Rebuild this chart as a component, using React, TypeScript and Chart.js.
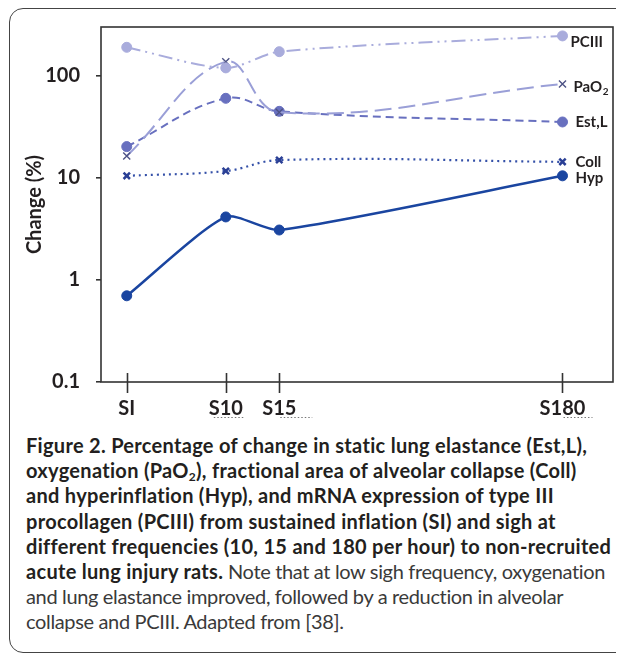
import React, { useEffect, useRef } from "react";
import { Chart, registerables } from "chart.js";

Chart.register(...registerables);

// ---- data ----
const categories = ["SI", "S10", "S15", "S180"];
const xPositions = [0, 10, 15.4, 44];
const seriesNames = ["PCIII", "PaO2", "Est,L", "Coll", "Hyp"];
const pciii = [191, 120, 173, 247];
const pao2 = [16.4, 138, 44, 83.5];
const estL = [20.3, 60.4, 45, 35.4];
const coll = [10.5, 11.7, 15, 14.4];
const hyp = [0.7, 4.15, 3.09, 10.5];
const yTicks = [0.1, 1, 10, 100];

const FONT = "Lato";
const INK = "#231f20";

const styles = [
  { color: "#a9acdc", dash: [14, 5, 2, 5, 2, 5], width: 2, point: "circle", r: 5, pb: "#a9acdc", pw: 1, t: 0.3 },
  { color: "#9a9fd7", dash: [17, 7], width: 2, point: "crossRot", r: 5, pb: "#4d5285", pw: 1.4, t: 0.4 },
  { color: "#6870bf", dash: [8, 5], width: 2, point: "circle", r: 5, pb: "#6870bf", pw: 1, t: 0.4 },
  { color: "#3450a8", dash: [2, 4], width: 2.2, point: "crossRot", r: 4.5, pb: "#2a3f95", pw: 2.5, t: 0.4 },
  { color: "#1a45a0", dash: [], width: 2.5, point: "circle", r: 5, pb: "#1a45a0", pw: 1, t: 0.22 },
];
const seriesValues = [pciii, pao2, estL, coll, hyp];
const labelDx = [8, 11, 13, 13, 13];
const labelDy = [6, 3, 0, 0, 2];
// little dotted marks under some x labels (start, end offsets from tick)
const underDots: Array<[number, number] | null> = [null, [-12, 18], [1, 33], [1, 30]];

const overlay = {
  id: "overlay",
  afterDraw(chart: any) {
    const { ctx, chartArea: a, scales } = chart;
    const xs = scales.x;
    ctx.save();
    ctx.strokeStyle = "#333";
    ctx.lineWidth = 1.6;
    ctx.strokeRect(a.left, a.top, a.right - a.left, a.bottom - a.top);
    xPositions.forEach((v) => {
      const px = Math.round(xs.getPixelForValue(v)) + 0.5;
      ctx.beginPath();
      ctx.moveTo(px, a.bottom - 9);
      ctx.lineTo(px, a.bottom + 11);
      ctx.stroke();
    });
    // dotted underline artifacts
    ctx.save();
    ctx.strokeStyle = "#777";
    ctx.lineWidth = 1;
    ctx.setLineDash([1.5, 2]);
    underDots.forEach((d, i) => {
      if (!d) return;
      const px = xs.getPixelForValue(xPositions[i]);
      ctx.beginPath();
      ctx.moveTo(px + d[0], a.bottom + 35.5);
      ctx.lineTo(px + d[1], a.bottom + 35.5);
      ctx.stroke();
    });
    ctx.restore();
    // end labels
    ctx.fillStyle = INK;
    ctx.textBaseline = "middle";
    ctx.textAlign = "left";
    seriesNames.forEach((name, i) => {
      const meta = chart.getDatasetMeta(i);
      const el = meta.data[meta.data.length - 1];
      const lx = xs.getPixelForValue(xPositions[xPositions.length - 1]) + labelDx[i];
      const ly = el.y + labelDy[i];
      ctx.font = `bold 15px ${FONT}`;
      if (name === "PaO2") {
        ctx.fillText("PaO", lx, ly);
        const w = ctx.measureText("PaO").width;
        ctx.font = `bold 10px ${FONT}`;
        ctx.fillText("2", lx + w + 0.5, ly + 5);
      } else {
        ctx.fillText(name, lx, ly);
      }
    });
    // y title
    ctx.translate(25, (a.top + a.bottom) / 2);
    ctx.rotate(-Math.PI / 2);
    ctx.font = `bold 20px ${FONT}`;
    ctx.textAlign = "center";
    ctx.textBaseline = "middle";
    ctx.fillText("Change (%)", 0, 0);
    ctx.restore();
  },
};

function ChartCanvas() {
  const ref = useRef<HTMLCanvasElement | null>(null);
  useEffect(() => {
    if (!ref.current) return;
    const chart = new Chart(ref.current, {
      type: "line",
      data: {
        datasets: seriesNames.map((name, i) => ({
          label: name,
          data: seriesValues[i].map((v, j) => ({ x: xPositions[j], y: v })),
          borderColor: styles[i].color,
          backgroundColor: styles[i].pb,
          borderWidth: styles[i].width,
          borderDash: styles[i].dash,
          pointStyle: styles[i].point as any,
          pointRadius: styles[i].r,
          pointBorderColor: styles[i].pb,
          pointBackgroundColor: styles[i].pb,
          pointBorderWidth: styles[i].pw,
          tension: styles[i].t,
          fill: false,
        })),
      },
      options: {
        animation: false,
        responsive: false,
        maintainAspectRatio: false,
        devicePixelRatio: 1,
        layout: { padding: { left: 0, top: 17, right: 11, bottom: 0 } },
        plugins: { legend: { display: false }, tooltip: { enabled: false } },
        scales: {
          x: {
            type: "linear",
            min: -2.6,
            max: 49.1,
            grid: { display: false, drawTicks: false },
            border: { display: false },
            afterBuildTicks: (s: any) => {
              s.ticks = xPositions.map((v) => ({ value: v }));
            },
            afterFit: (s: any) => {
              s.height = 43;
              s.paddingLeft = 0;
              s.paddingRight = 0;
            },
            ticks: {
              autoSkip: false,
              maxRotation: 0,
              padding: 15,
              color: INK,
              font: { family: FONT, size: 20, weight: "bold" },
              callback: (_v: any, i: number) => categories[i],
            },
          },
          y: {
            type: "logarithmic",
            min: 0.1,
            max: 302,
            grid: { drawOnChartArea: false, drawTicks: true, tickLength: 5, color: "#333", lineWidth: 1.6 },
            border: { display: false },
            afterBuildTicks: (s: any) => {
              s.ticks = yTicks.map((v) => ({ value: v }));
            },
            afterFit: (s: any) => {
              s.width = 91;
              s.paddingTop = 0;
              s.paddingBottom = 0;
            },
            ticks: {
              autoSkip: false,
              padding: 16,
              color: INK,
              font: { family: FONT, size: 20, weight: "bold" },
              callback: (v: any) => String(v),
            },
          },
        },
      },
      plugins: [overlay],
    });
    return () => chart.destroy();
  }, []);
  return <canvas ref={ref} width={614} height={415} style={{ position: "absolute", left: 2, top: 2, width: 614, height: 415 }} />;
}

const boldLines = [
  "Figure 2. Percentage of change in static lung elastance (Est,L),",
  "oxygenation (PaO|2|), fractional area of alveolar collapse (Coll)",
  "and hyperinflation (Hyp), and mRNA expression of type III",
  "procollagen (PCIII) from sustained inflation (SI) and sigh at",
  "different frequencies (10, 15 and 180 per hour) to non-recruited",
];
const mixedBold = "acute lung injury rats.";
const mixedLight = " Note that at low sigh frequency, oxygenation";
const lightLines = [
  "and lung elastance improved, followed by a reduction in alveolar",
  "collapse and PCIII. Adapted from [38].",
];

function renderLine(s: string) {
  const parts = s.split("|");
  if (parts.length === 1) return s;
  return (
    <>
      {parts[0]}
      <sub style={{ fontSize: "0.6em", verticalAlign: "-0.25em", lineHeight: 0 }}>{parts[1]}</sub>
      {parts[2]}
    </>
  );
}

export default function App() {
  const lineStyle: React.CSSProperties = { whiteSpace: "nowrap", height: 25.2, lineHeight: "25.2px" };
  const light: React.CSSProperties = { fontWeight: 400, color: "#3a3a3a", letterSpacing: "-0.35px" };
  return (
    <div style={{ position: "relative", width: 616, height: 647, overflow: "hidden" }}>
      <div
        style={{
          position: "absolute",
          left: 1,
          top: 0,
          width: 650,
          height: 645,
          border: "1.5px solid #444",
          borderRadius: 14,
          boxSizing: "border-box",
        }}
      />
      <ChartCanvas />
      <div
        style={{
          position: "absolute",
          left: 18,
          top: 425,
          fontFamily: FONT,
          fontSize: 20,
          letterSpacing: "0.3px",
          color: INK,
        }}
      >
        {boldLines.map((l, i) => (
          <div key={i} style={{ ...lineStyle, fontWeight: 700 }}>
            {renderLine(l)}
          </div>
        ))}
        <div style={lineStyle}>
          <span style={{ fontWeight: 700 }}>{mixedBold}</span>
          <span style={light}>{mixedLight}</span>
        </div>
        {lightLines.map((l, i) => (
          <div key={i} style={{ ...lineStyle, ...light }}>
            {l}
          </div>
        ))}
      </div>
    </div>
  );
}
